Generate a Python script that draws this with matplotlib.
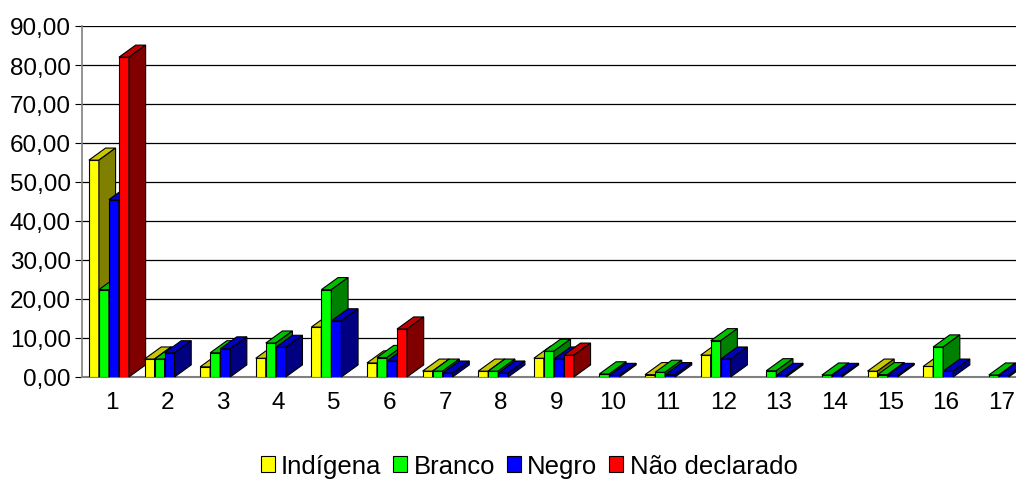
import numpy as np
import matplotlib
matplotlib.use('Agg')
import matplotlib.pyplot as plt
from matplotlib.patches import Polygon, Patch

plt.rcParams['font.family'] = ['Liberation Sans', 'DejaVu Sans']

grupos = np.arange(1, 18)
indigena = [55.6, 4.6, 2.6, 4.8, 12.8, 3.6, 1.5, 1.5, 4.8, 0.0, 0.6, 5.6, 0.0, 0.0, 1.5, 2.7, 0.0]
branco = [22.4, 4.6, 6.2, 8.7, 22.4, 5.0, 1.5, 1.5, 6.6, 0.8, 1.2, 9.3, 1.6, 0.5, 0.6, 7.7, 0.5]
negro = [45.5, 6.2, 7.2, 7.6, 14.4, 4.1, 1.0, 1.0, 4.6, 0.4, 0.6, 4.6, 0.4, 0.4, 0.4, 1.5, 0.4]
nao_declarado = [82.0, 0, 0, 0, 0, 12.3, 0, 0, 5.6, 0, 0, 0, 0, 0, 0, 0, 0]

series = [indigena, branco, negro, nao_declarado]
nomes = ['Indígena', 'Branco', 'Negro', 'Não declarado']
# front, top, side colours (Excel 3D look)
cores = [('#FFFF00', '#C8C800', '#808000'),
         ('#00FF00', '#00C000', '#008000'),
         ('#0000FF', '#0000C0', '#000080'),
         ('#FF0000', '#C00000', '#800000')]

fig = plt.figure(figsize=(10.16, 4.81), dpi=100)
ax = fig.add_axes([82/1016, 103/481, 1 - 82/1016, 351/481])

w = 0.18        # bar width (x units)
dx = 0.30       # depth offset in x units
dy = 3.1        # depth offset in y units
off = -0.05

z = 3
for i, g in enumerate(grupos):
    for s, vals in enumerate(series):
        v = vals[i]
        if v <= 0:
            continue
        x0 = g + off + (s - 2) * w
        fc, tc, sc = cores[s]
        ax.bar(x0, v, w, align='edge', color=fc, edgecolor='black', linewidth=0.8, zorder=z)
        top = [(x0, v), (x0 + w, v), (x0 + w + dx, v + dy), (x0 + dx, v + dy)]
        side = [(x0 + w, 0), (x0 + w + dx, dy), (x0 + w + dx, v + dy), (x0 + w, v)]
        ax.add_patch(Polygon(top, closed=True, facecolor=tc, edgecolor='black', linewidth=0.8, zorder=z, clip_on=False))
        ax.add_patch(Polygon(side, closed=True, facecolor=sc, edgecolor='black', linewidth=0.8, zorder=z, clip_on=False))
        z += 1

ax.set_xlim(0.466, 17.26)
ax.set_ylim(0, 90)
ax.set_yticks(np.arange(0, 91, 10))
ax.set_yticklabels(['%d,00' % t for t in range(0, 91, 10)], fontsize=17.5)
ax.set_xticks(grupos)
ax.set_xticklabels([str(g) for g in grupos], fontsize=17.5)
ax.tick_params(axis='x', length=0, pad=10)
ax.tick_params(axis='y', length=5, color='#000000', pad=3)
ax.yaxis.grid(True, color='black', linewidth=0.9, zorder=0)
ax.set_axisbelow(True)
for sp in ['top', 'right']:
    ax.spines[sp].set_visible(False)
ax.spines['left'].set_color('#808080')
ax.spines['bottom'].set_color('#808080')
ax.spines['left'].set_linewidth(1.2)
ax.spines['bottom'].set_linewidth(1.5)

handles = [Patch(facecolor=cores[s][0], edgecolor='black', linewidth=0.8) for s in range(4)]
fig.legend(handles, nomes, loc='center', bbox_to_anchor=(529/1016, 14/481), ncol=4,
           frameon=False, fontsize=18.5, handlelength=0.55, handleheight=0.55,
           handletextpad=0.25, columnspacing=0.45, borderaxespad=0)

fig.savefig('out.png', dpi=100)
